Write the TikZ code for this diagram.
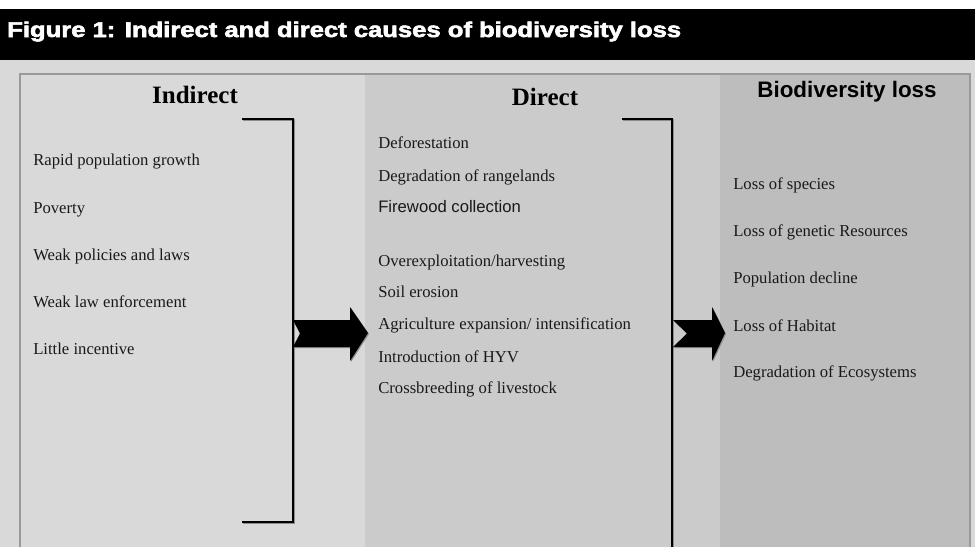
\documentclass[tikz,border=0pt]{standalone}
\usepackage{fontspec}
\setmainfont{Liberation Serif}
\setsansfont{Liberation Sans}
\newfontfamily\titlefont{Liberation Sans Bold}[FakeBold=2.5]
\usetikzlibrary{positioning}

\definecolor{bgpale}{HTML}{D9D9D9}
\definecolor{bgmid}{HTML}{CBCBCB}
\definecolor{bgdark}{HTML}{BDBDBD}
\definecolor{framegray}{HTML}{999999}
\definecolor{shadowgray}{HTML}{8C8C8C}

\begin{document}
\begin{tikzpicture}[x=0.75pt, y=-0.75pt,
  cause/.style={anchor=base west, inner sep=0pt, text=black!90, font=\fontsize{12.5}{15}\selectfont},
  causesans/.style={cause, font=\sffamily\fontsize{12.5}{15}\selectfont},
  colhead/.style={anchor=base, inner sep=0pt, font=\fontsize{18.75}{22}\selectfont\bfseries},
  bracketline/.style={line width=1.2pt, line join=miter},
  fatarrow/.style={fill=black}]

\useasboundingbox (0,0) rectangle (975,547);

% Hintergrund und Titelleiste
\fill[white] (0,0) rectangle (975,547);
\fill[black] (0,9) rectangle (975,60);
\fill[bgpale] (0,60) rectangle (975,547);
\node[anchor=base west, inner sep=0pt, text=white, font=\titlefont\fontsize{16}{19}\selectfont] (title) at (7,37)
  {\scalebox{1.2}[1]{Figure 1: Indirect and direct causes of biodiversity loss}};

% drei Spalten
\fill[bgmid] (365,74) rectangle (720,547);
\fill[bgdark] (720,74) rectangle (970,547);
\draw[framegray, line width=1.1pt] (20,547) -- (20,74) -- (970,74) -- (970,547);

% Spaltenkoepfe
\node[colhead] (indirect) at (195,103) {Indirect};
\node[colhead] (direct) at (545,105) {Direct};
\node[anchor=base, inner sep=0pt, font=\sffamily\bfseries\fontsize{16.8}{20}\selectfont] (loss) at (847,97) {Biodiversity loss};

% indirekte Ursachen
\node[cause] (growth) at (33,165) {Rapid population growth};
\node[cause] (poverty) at (33,213) {Poverty};
\node[cause] (policies) at (33,260) {Weak policies and laws};
\node[cause] (enforce) at (33,307) {Weak law enforcement};
\node[cause] (incentive) at (33,354) {Little incentive};

% direkte Ursachen
\node[cause] (defor) at (378,148) {Deforestation};
\node[cause] (range) at (378,181) {Degradation of rangelands};
\node[causesans] (firewood) at (378,212) {Firewood collection};
\node[cause] (overexp) at (378,266) {Overexploitation/harvesting};
\node[cause] (erosion) at (378,297) {Soil erosion};
\node[cause] (agri) at (378,329) {Agriculture expansion/ intensification};
\node[cause] (hyv) at (378,362) {Introduction of HYV};
\node[cause] (cross) at (378,393) {Crossbreeding of livestock};

% Folgen
\node[cause] (species) at (733,189) {Loss of species};
\node[cause] (genetic) at (733,236) {Loss of genetic Resources};
\node[cause] (decline) at (733,283) {Population decline};
\node[cause] (habitat) at (733,331) {Loss of Habitat};
\node[cause] (ecosys) at (733,377) {Degradation of Ecosystems};

% Klammern
\draw[bracketline, shadowgray] (243,120) -- (294,120) -- (294,523) -- (243,523);
\draw[bracketline] (242,119) -- (293,119) -- (293,522) -- (242,522);
\draw[bracketline, shadowgray] (623,120) -- (673,120) -- (673,547);
\draw[bracketline] (622,119) -- (672,119) -- (672,547);

% Blockpfeile
\fill[shadowgray] (294,321) -- (351,321) -- (351,308) -- (369,334) -- (351,362) -- (351,348) -- (294,348) -- (301,334.5) -- cycle;
\fill[fatarrow] (293,320) -- (350,320) -- (350,307) -- (368,333) -- (350,361) -- (350,347) -- (293,347) -- (300,333.5) -- cycle;
\fill[shadowgray] (674,321) -- (713,321) -- (713,308) -- (726,334) -- (713,362) -- (713,348) -- (674,348) -- (688,334.5) -- cycle;
\fill[fatarrow] (673,320) -- (712,320) -- (712,307) -- (725,333) -- (712,361) -- (712,347) -- (673,347) -- (687,333.5) -- cycle;

\end{tikzpicture}
\end{document}
